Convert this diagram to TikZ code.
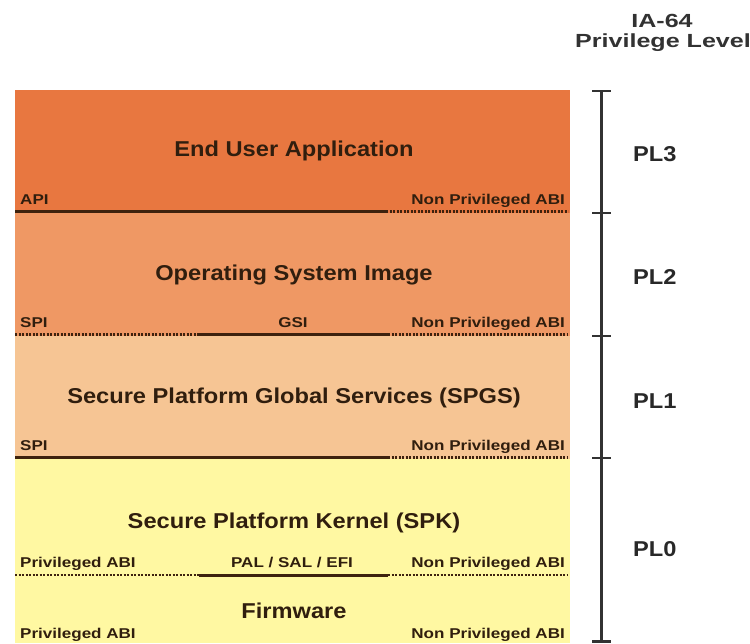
\documentclass[tikz,border=0pt]{standalone}
\usepackage{fontspec}
\setmainfont{Liberation Sans}
\newfontfamily\mainlab[FakeStretch=1.1]{Liberation Sans}
\newfontfamily\smlab[FakeStretch=1.2]{Liberation Sans}
\newfontfamily\hdlab[FakeStretch=1.32]{Liberation Sans}
\definecolor{bandA}{RGB}{232,119,64}
\definecolor{bandB}{RGB}{239,152,100}
\definecolor{bandC}{RGB}{246,197,148}
\definecolor{bandD}{RGB}{255,248,162}
\definecolor{ink}{RGB}{48,30,14}
\definecolor{rule}{RGB}{62,34,14}
\definecolor{axisgray}{RGB}{50,50,50}
\tikzset{
  mainlabel/.style={font=\mainlab\bfseries\fontsize{21.5}{24}\selectfont, text=ink, inner sep=0pt, anchor=base},
  smallL/.style={font=\smlab\bfseries\fontsize{14.2}{16}\selectfont, text=ink, inner sep=0pt, anchor=base west},
  smallR/.style={font=\smlab\bfseries\fontsize{14.2}{16}\selectfont, text=ink, inner sep=0pt, anchor=base east},
  smallC/.style={font=\smlab\bfseries\fontsize{14.2}{16}\selectfont, text=ink, inner sep=0pt, anchor=base},
  pllabel/.style={font=\mainlab\bfseries\fontsize{21.5}{24}\selectfont, text=axisgray!80!black, inner sep=0pt, anchor=base west},
  hdlabel/.style={font=\hdlab\bfseries\fontsize{19}{22}\selectfont, text=axisgray, inner sep=0pt},
  solidrule/.style={draw=rule, line width=3pt},
  dotrule/.style={draw=rule, line width=2.2pt, dash pattern=on 2.2pt off 1.3pt},
  axisline/.style={draw=axisgray, line width=3pt},
  tickline/.style={draw=axisgray, line width=2.4pt}
}
\begin{document}
\begin{tikzpicture}[x=1pt, y=-1pt]
\useasboundingbox (0,0) rectangle (750,643);
% bands
\fill[bandA] (15,90) rectangle (570,213);
\fill[bandB] (15,213) rectangle (570,336);
\fill[bandC] (15,336) rectangle (570,459);
\fill[bandD] (15,459) rectangle (570,643);
% rule coordinates
\coordinate (r1a) at (15,211.5);  \coordinate (r1b) at (386,211.5); \coordinate (r1c) at (568,211.5);
\coordinate (r2a) at (15,334.5);  \coordinate (r2b) at (199,334.5); \coordinate (r2c) at (388,334.5); \coordinate (r2d) at (568,334.5);
\coordinate (r3a) at (15,457.5);  \coordinate (r3b) at (388,457.5); \coordinate (r3c) at (568,457.5);
\coordinate (r4a) at (15,575);    \coordinate (r4b) at (199,575);   \coordinate (r4c) at (388,575);   \coordinate (r4d) at (568,575);
\draw[solidrule] (r1a) -- (r1b);
\draw[dotrule] (r1b) -- (r1c);
\draw[dotrule] (r2a) -- (r2b);
\draw[solidrule] (r2b) -- (r2c);
\draw[dotrule] (r2c) -- (r2d);
\draw[solidrule] (r3a) -- (r3b);
\draw[dotrule] (r3b) -- (r3c);
\draw[dotrule] (r4a) -- (r4b);
\draw[solidrule] (r4b) -- (r4c);
\draw[dotrule] (r4c) -- (r4d);
% main labels
\node[mainlabel] (eua) at (294,156) {End User Application};
\node[mainlabel] (osi) at (294,280) {Operating System Image};
\node[mainlabel] (spgs) at (294,403) {Secure Platform Global Services (SPGS)};
\node[mainlabel] (spk) at (294,528) {Secure Platform Kernel (SPK)};
\node[mainlabel] (fw) at (294,618) {Firmware};
% small labels
\node[smallL] (api) at (20,204) {API};
\node[smallR] (npa1) at (565,204) {Non Privileged ABI};
\node[smallL] (spi1) at (20,327) {SPI};
\node[smallC] (gsi) at (293,327) {GSI};
\node[smallR] (npa2) at (565,327) {Non Privileged ABI};
\node[smallL] (spi2) at (20,450) {SPI};
\node[smallR] (npa3) at (565,450) {Non Privileged ABI};
\node[smallL] (pa1) at (20,567) {Privileged ABI};
\node[smallC] (pse) at (292,567) {PAL / SAL / EFI};
\node[smallR] (npa4) at (565,567) {Non Privileged ABI};
\node[smallL] (pa2) at (20,638) {Privileged ABI};
\node[smallR] (npa5) at (565,638) {Non Privileged ABI};
% axis
\coordinate (ax0) at (601.5,90);
\coordinate (ax4) at (601.5,643);
\draw[axisline] (ax0) -- (ax4);
\coordinate (t0a) at (592,91.2);  \coordinate (t0b) at (611,91.2);
\coordinate (t1a) at (592,213);   \coordinate (t1b) at (611,213);
\coordinate (t2a) at (592,336);   \coordinate (t2b) at (611,336);
\coordinate (t3a) at (592,458);   \coordinate (t3b) at (611,458);
\coordinate (t4a) at (592,641.5); \coordinate (t4b) at (611,641.5);
\draw[tickline] (t0a) -- (t0b);
\draw[tickline] (t1a) -- (t1b);
\draw[tickline] (t2a) -- (t2b);
\draw[tickline] (t3a) -- (t3b);
\draw[tickline] (t4a) -- (t4b);
% PL labels
\node[pllabel] (pl3) at (633,161) {PL3};
\node[pllabel] (pl2) at (633,284) {PL2};
\node[pllabel] (pl1) at (633,408) {PL1};
\node[pllabel] (pl0) at (633,556) {PL0};
% header
\node[hdlabel, anchor=base] (ia) at (662,27) {IA-64};
\node[hdlabel, anchor=base west] (plv) at (575,47) {Privilege Level};
\end{tikzpicture}
\end{document}
